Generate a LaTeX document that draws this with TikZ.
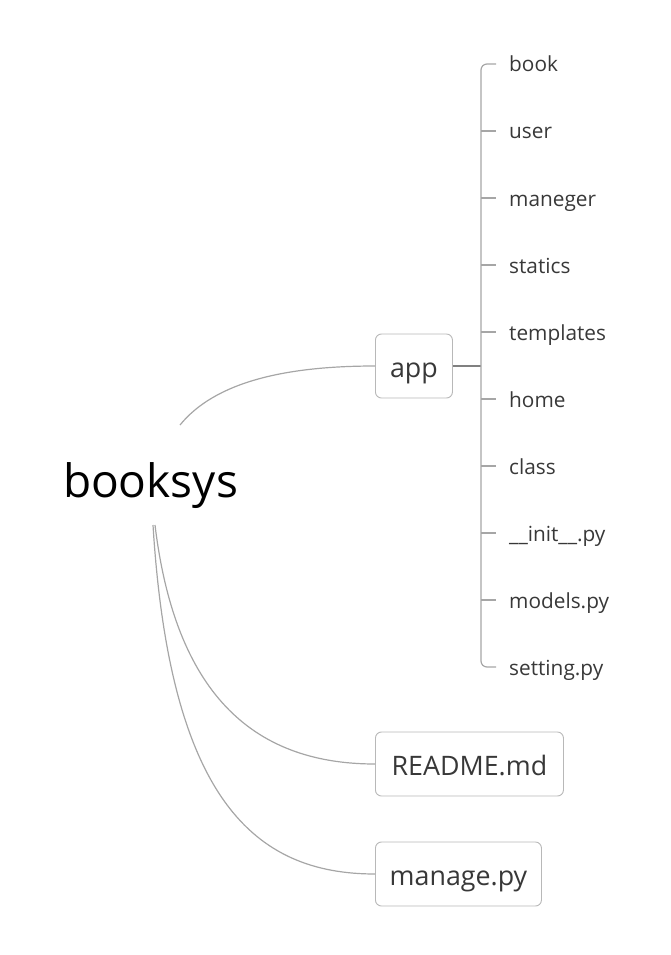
\documentclass[tikz,border=0pt]{standalone}
\usepackage{fontspec}
\setmainfont{Open Sans}
\begin{document}
\begin{tikzpicture}[x=1pt,y=-1pt,
  conn/.style={draw=black!35, line width=1.2pt},
  spine/.style={draw=black!50, line width=1.8pt},
  box/.style={draw=black!28, line width=0.9pt, rounded corners=6pt, fill=white, text=black!78, font=\fontsize{26.8}{32}\selectfont, anchor=west, minimum height=64pt, inner xsep=4pt, text height=22pt, text depth=0pt},
  leaf/.style={anchor=west, inner xsep=13pt, inner ysep=0pt, text=black!78, text height=16pt, text depth=0pt, font=\fontsize{20.8}{24}\selectfont}]
\useasboundingbox (0,0) rectangle (671,955);
\node[font=\fontsize{46}{52}\selectfont, text=black, text height=36pt, text depth=0pt] (root) at (150.5,479) {booksys};
\coordinate (r1) at (180,425);
\coordinate (r2) at (155,525);
\coordinate (r3) at (153,525);
\node[box, minimum width=77pt] (app) at (375,366) {app};
\node[box, minimum width=188pt] (readme) at (375,764) {README.md};
\node[box, minimum width=166pt] (manage) at (375,874) {manage.py};
\draw[conn] (r1) .. controls (215,382) and (285,366) .. (app.west);
\draw[conn] (r2) .. controls (175,690) and (250,764) .. (readme.west);
\draw[conn] (r3) .. controls (170,800) and (255,874) .. (manage.west);
\foreach \n/\t/\y in {c1/book/64, c2/user/131, c3/maneger/198, c4/statics/265, c5/templates/332, c6/home/399, c7/class/466, c8/{\_\_init\_\_.py}/533, c9/models.py/600, c10/setting.py/667}
  \node[leaf] (\n) at (496,\y) {\t};
\coordinate (sp) at (481,366);
\draw[spine] (app.east) -- (sp);
\draw[conn, rounded corners=6pt] (c1.west) -| (sp) |- (c10.west);
\foreach \n/\y in {c2/131, c3/198, c4/265, c5/332, c6/399, c7/466, c8/533, c9/600}
  \draw[conn] (481,\y) -- (\n.west);
\end{tikzpicture}
\end{document}
